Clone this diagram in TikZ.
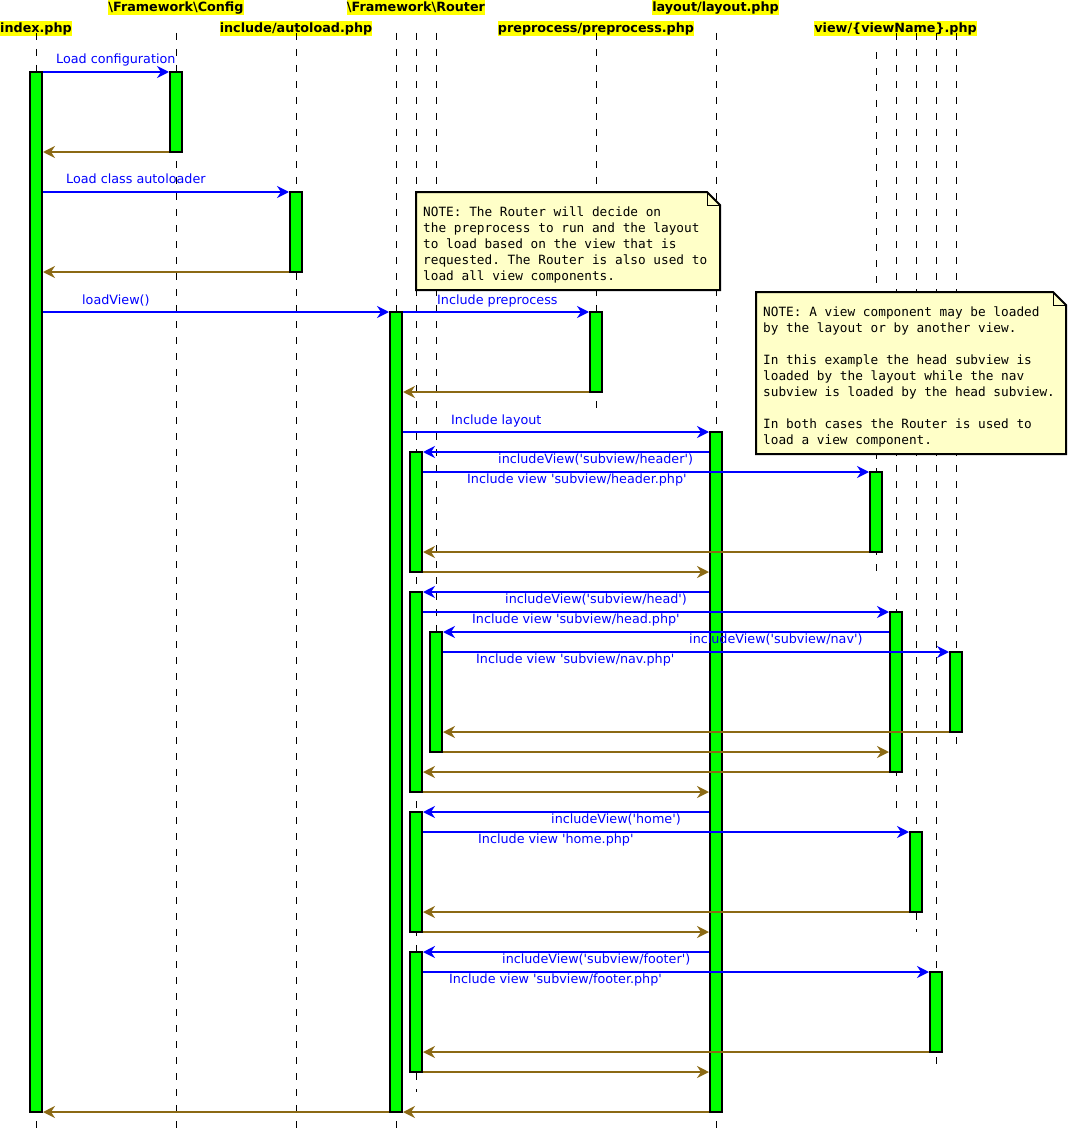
\documentclass[tikz,border=0pt]{standalone}
\usepackage{fontspec}
\setmainfont{DejaVu Sans}
\setmonofont{DejaVu Sans Mono}
\usetikzlibrary{arrows.meta}
\definecolor{actgreen}{RGB}{0,255,0}
\definecolor{retbrown}{RGB}{139,105,20}
\definecolor{notefill}{RGB}{255,255,200}
\definecolor{hdryellow}{RGB}{255,255,0}
\begin{document}
\begin{tikzpicture}[x=1pt,y=-1pt,
  life/.style={draw=black, line width=1pt, dash pattern=on 7pt off 9pt},
  act/.style={rectangle, draw=black, fill=actgreen, line width=2pt, minimum width=12pt, inner sep=0pt},
  hdr/.style={fill=hdryellow, inner xsep=0pt, inner ysep=0.5pt, text height=10.5pt, text depth=3.2pt, font=\fontsize{12.75}{15}\selectfont\bfseries},
  sync/.style={draw=blue, line width=2pt, -{Stealth[length=12pt,width=12pt,inset=4pt]}},
  ret/.style={draw=retbrown, line width=1.8pt, -{Stealth[length=12pt,width=12pt,inset=4pt]}},
  lbl/.style={text=blue, inner sep=0pt, anchor=base west, font=\fontsize{12.75}{15}\selectfont},
  notebox/.style={draw=black, fill=notefill, line width=2pt, line join=miter},
  notefold/.style={draw=black, line width=1pt},
  notetxt/.style={inner sep=0pt, anchor=base west, font=\ttfamily\fontsize{12.75}{16}\selectfont},
]
\useasboundingbox (0,0) rectangle (1069,1134);

% headers
\node[hdr, anchor=north] (hcfg) at (176,0) {\textbackslash Framework\textbackslash Config};
\node[hdr, anchor=north] (hrt) at (416,0) {\textbackslash Framework\textbackslash Router};
\node[hdr, anchor=north] (hlay) at (715.5,0) {layout/layout.php};
\node[hdr, anchor=north] (hidx) at (36,21) {index.php};
\node[hdr, anchor=north] (hauto) at (296,21) {include/autoload.php};
\node[hdr, anchor=north] (hpre) at (596,21) {preprocess/preprocess.php};
\node[hdr, anchor=north] (hview) at (895.6,21) {view/\{viewName\}.php};

% lifelines
\foreach \lx/\ltop/\lbot in {36/33/1132,176/33/1132,296/33/1132,396/33/1132,416/33/1092,436/33/752,596/33/412,716/33/1132,876/52/572,896/33/812,916/33/932,936/33/1072,956/33/752}
  \draw[life] (\lx,\ltop) -- (\lx,\lbot);

% notes
\draw[notebox] (416,192) -- (707,192) -- (720,205) -- (720,290) -- (416,290) -- cycle;
\draw[notefold] (707,192) -- (707,205) -- (720,205);
\foreach \t [count=\i from 0] in {NOTE: The Router will decide on,the preprocess to run and the layout,to load based on the view that is,requested. The Router is also used to,load all view components.}
  \node[notetxt] (na\i) at (423,216+16*\i) {\t};

\draw[notebox] (756,292) -- (1053,292) -- (1066,305) -- (1066,454) -- (756,454) -- cycle;
\draw[notefold] (1053,292) -- (1053,305) -- (1066,305);
\foreach \t/\i in {NOTE: A view component may be loaded/0,by the layout or by another view./1,In this example the head subview is/3,loaded by the layout while the nav/4,subview is loaded by the head subview./5,In both cases the Router is used to/7,load a view component./8}
  \node[notetxt] (nb\i) at (763,316+16*\i) {\t};

% activations
\node[act, minimum height=1040pt] (idx) at (36,592) {};
\node[act, minimum height=80pt] (cfg) at (176,112) {};
\node[act, minimum height=80pt] (auto) at (296,232) {};
\node[act, minimum height=800pt] (rt) at (396,712) {};
\node[act, minimum height=80pt] (pre) at (596,352) {};
\node[act, minimum height=680pt] (lay) at (716,772) {};
\node[act, minimum height=120pt] (sa) at (416,512) {};
\node[act, minimum height=80pt] (vhdr) at (876,512) {};
\node[act, minimum height=200pt] (sb) at (416,692) {};
\node[act, minimum height=160pt] (vhead) at (896,692) {};
\node[act, minimum height=120pt] (sc) at (436,692) {};
\node[act, minimum height=80pt] (vnav) at (956,692) {};
\node[act, minimum height=120pt] (sd) at (416,872) {};
\node[act, minimum height=80pt] (vhome) at (916,872) {};
\node[act, minimum height=120pt] (se) at (416,1012) {};
\node[act, minimum height=80pt] (vfoot) at (936,1012) {};

% message rows
\foreach \v in {72,152,192,272,312,392,432,452,472,552,572,592,612,632,652,732,752,772,792,812,832,912,932,952,972,1052,1072,1112}
  \coordinate (y\v) at (0,\v);

% messages
\draw[sync] (idx.east |- y72) -- (cfg.west |- y72);
\draw[ret] (cfg.west |- y152) -- (idx.east |- y152);
\draw[sync] (idx.east |- y192) -- (auto.west |- y192);
\draw[ret] (auto.west |- y272) -- (idx.east |- y272);
\draw[sync] (idx.east |- y312) -- (rt.west |- y312);
\draw[sync] (rt.east |- y312) -- (pre.west |- y312);
\draw[ret] (pre.west |- y392) -- (rt.east |- y392);
\draw[sync] (rt.east |- y432) -- (lay.west |- y432);
\draw[sync] (lay.west |- y452) -- (sa.east |- y452);
\draw[sync] (sa.east |- y472) -- (vhdr.west |- y472);
\draw[ret] (vhdr.west |- y552) -- (sa.east |- y552);
\draw[ret] (sa.east |- y572) -- (lay.west |- y572);
\draw[sync] (lay.west |- y592) -- (sb.east |- y592);
\draw[sync] (sb.east |- y612) -- (vhead.west |- y612);
\draw[sync] (vhead.west |- y632) -- (sc.east |- y632);
\draw[sync] (sc.east |- y652) -- (vnav.west |- y652);
\draw[ret] (vnav.west |- y732) -- (sc.east |- y732);
\draw[ret] (sc.east |- y752) -- (vhead.west |- y752);
\draw[ret] (vhead.west |- y772) -- (sb.east |- y772);
\draw[ret] (sb.east |- y792) -- (lay.west |- y792);
\draw[sync] (lay.west |- y812) -- (sd.east |- y812);
\draw[sync] (sd.east |- y832) -- (vhome.west |- y832);
\draw[ret] (vhome.west |- y912) -- (sd.east |- y912);
\draw[ret] (sd.east |- y932) -- (lay.west |- y932);
\draw[sync] (lay.west |- y952) -- (se.east |- y952);
\draw[sync] (se.east |- y972) -- (vfoot.west |- y972);
\draw[ret] (vfoot.west |- y1052) -- (se.east |- y1052);
\draw[ret] (se.east |- y1072) -- (lay.west |- y1072);
\draw[ret] (lay.west |- y1112) -- (rt.east |- y1112);
\draw[ret] (rt.west |- y1112) -- (idx.east |- y1112);

% labels
\node[lbl] (m1) at (56,64) {Load configuration};
\node[lbl] (m2) at (66,184) {Load class autoloader};
\node[lbl] (m3) at (82,304) {loadView()};
\node[lbl] (m4) at (437,304) {Include preprocess};
\node[lbl] (m5) at (451,424) {Include layout};
\node[lbl] (m6) at (498,463) {includeView(\textquotesingle subview/header\textquotesingle)};
\node[lbl] (m7) at (467,483) {Include view \textquotesingle subview/header.php\textquotesingle};
\node[lbl] (m8) at (505,603) {includeView(\textquotesingle subview/head\textquotesingle)};
\node[lbl] (m9) at (472,623) {Include view \textquotesingle subview/head.php\textquotesingle};
\node[lbl] (m10) at (689,643) {includeView(\textquotesingle subview/nav\textquotesingle)};
\node[lbl] (m11) at (476,663) {Include view \textquotesingle subview/nav.php\textquotesingle};
\node[lbl] (m12) at (551,823) {includeView(\textquotesingle home\textquotesingle)};
\node[lbl] (m13) at (478,843) {Include view \textquotesingle home.php\textquotesingle};
\node[lbl] (m14) at (502,963) {includeView(\textquotesingle subview/footer\textquotesingle)};
\node[lbl] (m15) at (449,983) {Include view \textquotesingle subview/footer.php\textquotesingle};
\end{tikzpicture}
\end{document}
